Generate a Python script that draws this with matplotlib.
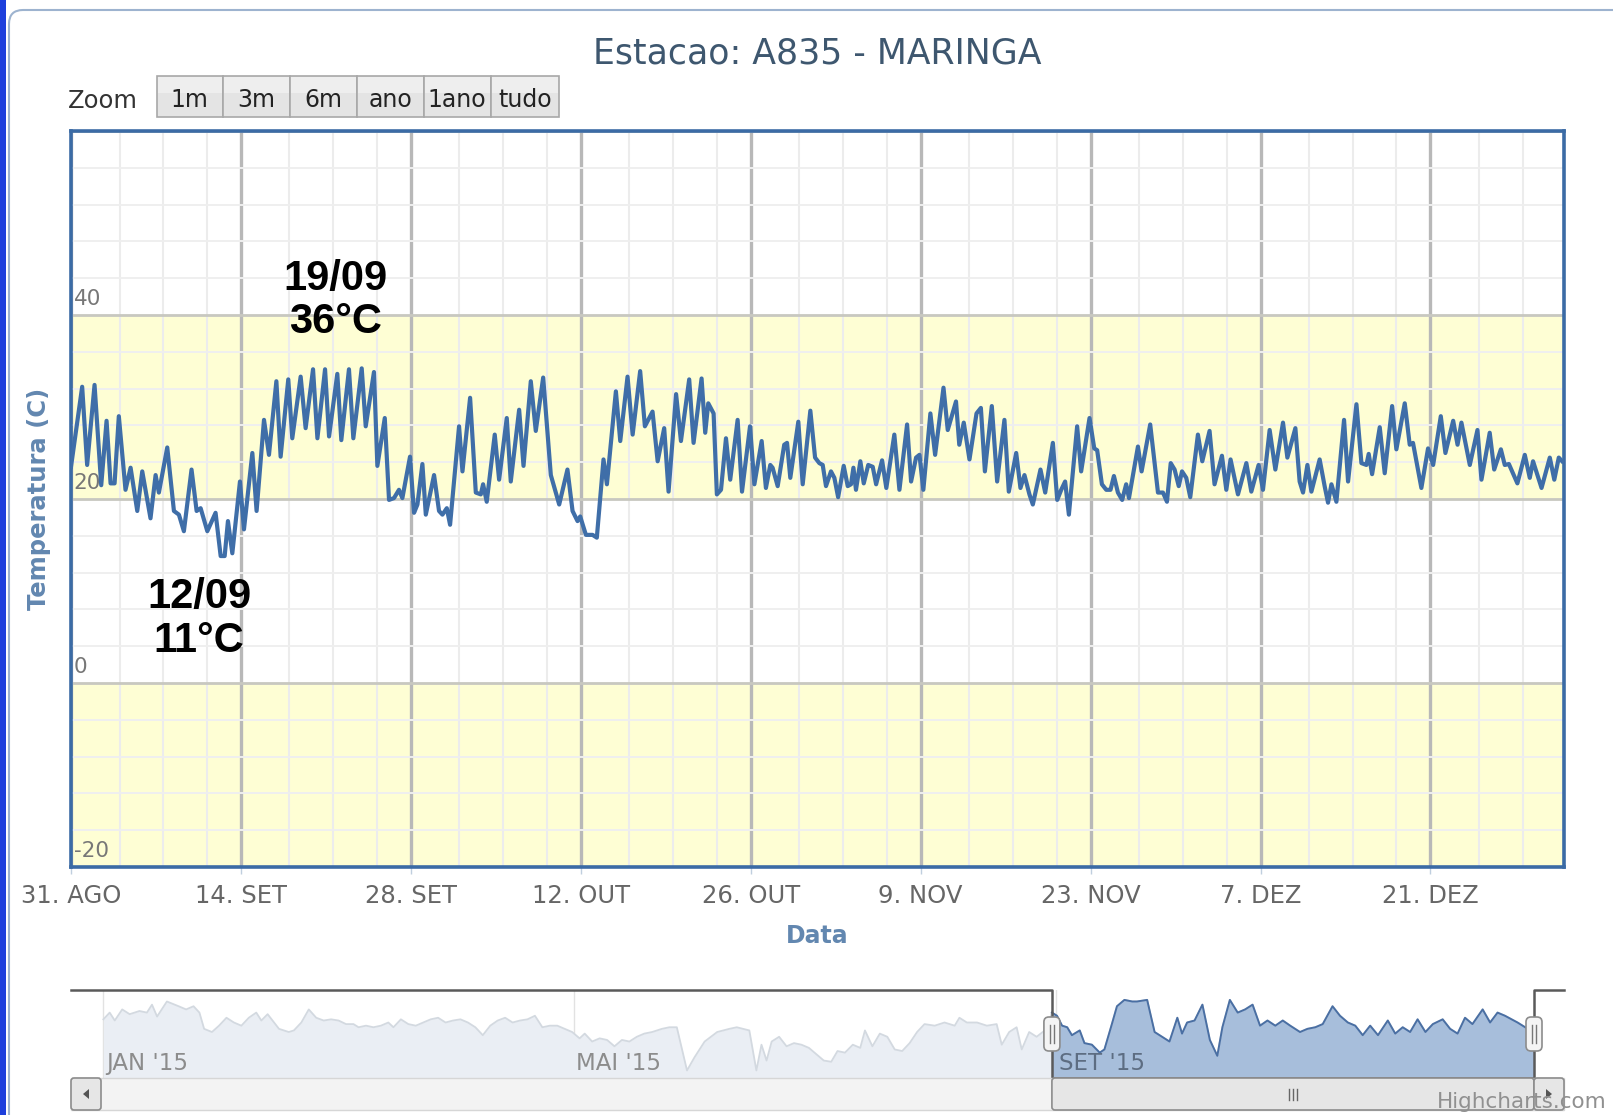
import numpy as np
import matplotlib
matplotlib.use("Agg")
import matplotlib.pyplot as plt
import matplotlib.dates as mdates
from matplotlib.patches import Rectangle, FancyBboxPatch, Polygon
from matplotlib.ticker import MultipleLocator
from datetime import datetime

# ---------------- data ----------------
title = "Estacao: A835 - MARINGA"
y_label = "Temperatura (C)"
x_label = "Data"
zoom_label = "Zoom"
zoom_buttons = ["1m", "3m", "6m", "ano", "1ano", "tudo"]
credit = "Highcharts.com"

start = datetime(2015, 8, 31)
end = datetime(2016, 1, 1)
x_tick_dates = [datetime(2015, 8, 31), datetime(2015, 9, 14), datetime(2015, 9, 28),
                datetime(2015, 10, 12), datetime(2015, 10, 26), datetime(2015, 11, 9),
                datetime(2015, 11, 23), datetime(2015, 12, 7), datetime(2015, 12, 21)]
x_tick_labels = ["31. AGO", "14. SET", "28. SET", "12. OUT", "26. OUT",
                 "9. NOV", "23. NOV", "7. DEZ", "21. DEZ"]
y_ticks = [-20, 0, 20, 40]
y_tick_labels = ["-20", "0", "20", "40"]
y_min, y_max = -20, 60
band_ranges = [(-20, 0), (20, 40)]

# temperature series: days after 31 Aug 2015, value in C
seg1_days = [0.00, 0.92, 1.33, 1.94, 2.49, 2.93, 3.26, 3.59, 3.94, 4.49,
             4.91, 5.46, 5.87, 6.55, 6.97, 7.24, 7.93, 8.48, 8.89, 9.30,
             9.93, 10.35, 10.68, 11.23, 11.91, 12.33, 12.66, 12.93, 13.29, 13.92,
             14.25, 14.94, 15.29, 15.90, 16.31, 16.92, 17.27, 17.90, 18.23, 18.92,
             19.33, 19.94, 20.30, 20.93, 21.26, 21.94, 22.27, 22.90, 23.26, 23.95,
             24.28, 24.96]
seg1_temp = [23.5, 32.2, 23.7, 32.4, 21.5, 28.5, 21.7, 21.7, 29.0, 21.0,
             23.4, 18.7, 23.0, 17.9, 22.6, 20.7, 25.6, 18.7, 18.3, 16.5,
             23.2, 18.7, 19.0, 16.5, 18.5, 13.8, 13.8, 17.6, 14.1, 21.9,
             16.7, 25.0, 18.7, 28.6, 24.8, 32.8, 24.6, 33.0, 26.6, 33.3,
             27.7, 34.1, 26.6, 34.1, 26.8, 33.6, 26.4, 34.1, 26.6, 34.2,
             27.9, 33.8]
seg2_days = [25.24, 25.85, 26.20, 26.61, 27.02, 27.30, 27.93, 28.26, 28.54, 28.95,
             29.23, 29.91, 30.32, 30.60, 30.96, 31.23, 31.97, 32.25, 32.88, 33.35,
             33.76, 33.95, 34.25, 34.91, 35.27, 35.90, 36.23, 36.92, 37.28, 37.88,
             38.29, 38.90, 39.53, 40.22, 40.90, 41.32, 41.73, 41.95, 42.42, 42.97,
             43.32, 43.87, 44.15, 44.89, 45.25, 45.85, 46.27, 46.89, 47.28, 47.91,
             48.33, 48.87, 49.23]
seg2_temp = [23.6, 28.8, 19.9, 20.1, 21.0, 20.1, 24.6, 18.5, 19.4, 23.8,
             18.3, 22.6, 18.7, 18.3, 19.0, 17.2, 27.9, 23.0, 31.0, 20.7,
             20.5, 21.6, 19.7, 27.0, 22.1, 28.8, 21.9, 29.7, 23.6, 32.8,
             27.4, 33.2, 22.6, 19.4, 23.2, 18.7, 17.6, 18.1, 16.1, 16.1,
             15.8, 24.3, 21.6, 31.7, 26.3, 33.3, 27.0, 33.9, 27.9, 29.5,
             24.1, 27.7, 20.8]
seg3_days = [49.85, 50.25, 50.93, 51.29, 51.95, 52.25, 52.50, 52.94, 53.21, 53.55,
             53.96, 54.31, 54.92, 55.28, 55.94, 56.30, 56.90, 57.25, 57.61, 57.80,
             58.22, 58.76, 58.99, 59.26, 59.92, 60.28, 60.91, 61.30, 61.65, 61.93,
             62.20, 62.61, 62.89, 63.20, 63.66, 63.99, 64.26, 64.46, 64.67, 65.03,
             65.31, 65.68, 66.05, 66.33, 66.82, 67.17, 67.83, 68.25, 68.88, 69.21,
             69.62, 69.90, 70.22, 70.80, 71.19, 71.88, 72.23, 72.91, 73.18, 73.55,
             74.02]
seg3_temp = [31.4, 26.3, 33.0, 26.1, 33.1, 27.2, 30.4, 29.3, 20.5, 21.0,
             26.6, 22.1, 28.6, 20.8, 27.9, 21.6, 26.3, 21.2, 23.7, 23.4,
             21.4, 25.9, 26.1, 22.3, 28.4, 21.6, 29.6, 24.5, 23.9, 23.7,
             21.4, 23.0, 22.3, 20.2, 23.6, 21.4, 21.6, 23.4, 21.0, 24.1,
             21.7, 23.7, 23.5, 21.6, 24.2, 21.2, 27.0, 21.0, 28.1, 21.9,
             24.5, 24.8, 21.0, 29.3, 24.8, 32.1, 27.5, 30.6, 25.9, 28.3,
             24.3]
seg4_days = [74.60, 74.96, 75.29, 75.86, 76.30, 76.90, 77.26, 77.87, 78.22, 78.55,
             78.96, 79.24, 79.87, 80.26, 80.89, 81.25, 81.58, 81.90, 82.21, 82.89,
             83.22, 83.91, 84.30, 84.54, 84.93, 85.29, 85.64, 85.92, 86.25, 86.60,
             86.93, 87.16, 87.90, 88.20, 88.91, 89.55, 89.96, 90.29, 90.60, 90.92,
             91.26, 91.53, 91.88, 92.21, 92.84, 93.20, 93.80, 94.21, 94.82, 95.18,
             95.53, 96.14, 96.83, 97.24, 97.84, 98.20, 98.75, 99.22]
seg4_temp = [29.3, 29.9, 23.0, 30.1, 21.9, 28.6, 20.8, 25.0, 21.2, 22.6,
             20.5, 19.4, 23.2, 20.7, 26.1, 19.9, 21.0, 21.9, 18.3, 27.9,
             23.0, 28.8, 25.5, 25.3, 21.6, 21.0, 21.0, 22.5, 20.7, 19.9,
             21.6, 20.1, 25.7, 23.0, 28.1, 20.7, 20.7, 19.7, 23.9, 23.2,
             21.4, 23.0, 22.3, 20.2, 27.0, 24.1, 27.4, 21.6, 24.7, 21.0,
             24.3, 20.5, 23.9, 20.8, 23.7, 21.0, 27.5, 23.2]
seg5_days = [99.85, 100.21, 100.87, 101.22, 101.50, 101.86, 102.19, 102.87, 103.28, 103.56,
             103.84, 104.25, 104.88, 105.21, 105.90, 106.31, 106.72, 106.91, 107.19, 107.82,
             108.23, 108.84, 109.19, 109.88, 110.29, 110.56, 111.25, 111.80, 112.22, 112.85,
             113.23, 113.87, 114.23, 114.55, 115.24, 115.87, 116.20, 116.88, 117.25, 117.80,
             118.12, 118.46, 119.16, 119.77, 120.18, 120.45, 121.15, 121.83, 122.20, 122.57,
             122.85]
seg5_temp = [28.3, 24.5, 27.7, 21.9, 20.7, 23.7, 20.8, 24.3, 21.4, 19.6,
             21.6, 19.7, 28.6, 21.9, 30.3, 23.9, 23.7, 24.9, 22.7, 27.8,
             22.8, 30.1, 25.4, 30.4, 25.9, 26.1, 21.2, 25.5, 23.7, 29.0,
             25.0, 28.5, 25.9, 28.3, 23.7, 27.5, 22.1, 27.2, 23.2, 25.4,
             23.7, 23.8, 21.7, 24.8, 22.3, 24.1, 21.2, 24.5, 22.1, 24.5,
             24.1]

# annotations: (text, days after 31 Aug for centre, baseline value)
annotations = [("19/09", 21.8, 42.7), ("36°C", 21.8, 38.0),
               ("12/09", 10.55, 8.1), ("11°C", 10.55, 3.4)]

# navigator series (days after 1 Jan 2015, smoothed value)
nav_start = datetime(2015, 1, 1)
nav_days_a = [0, 1.6, 2.9, 4.8, 6.7, 9.2, 11.1, 12.4, 13.7, 16.2, 19.2, 21.1, 23.0, 24.5,
              25.7, 27.7, 29.5, 31.4, 33.3, 35.2, 37.1, 39.0, 40.3, 41.9, 44.8, 47.3,
              48.6, 50.5, 52.4, 54.3, 56.2, 58.1, 60.0, 61.9, 63.8, 65.1, 67.0, 68.9,
              70.8, 72.7, 74.0, 75.9, 77.8, 79.7, 81.6, 83.5, 85.4, 87.3, 89.2, 91.1,
              93.0, 94.9, 96.8, 98.7, 100.6, 102.5, 104.4, 106.3, 108.2, 110.1, 112.0,
              113.9, 115.8, 117.7, 119.6]
nav_vals_a = [25.2, 26.9, 24.9, 27.7, 26.5, 27.3, 26.9, 28.9, 25.9, 29.7, 28.5, 27.7, 28.5, 26.9,
              22.8, 22.0, 23.6, 25.6, 24.4, 23.6, 25.6, 26.9, 24.9, 26.5, 22.8, 22.0,
              22.4, 24.4, 27.7, 25.6, 24.9, 25.2, 24.9, 24.0, 24.0, 23.2, 23.6, 23.2,
              23.6, 24.4, 23.2, 25.2, 24.0, 23.6, 24.4, 25.2, 25.6, 24.4, 24.9, 25.2,
              24.4, 23.2, 21.2, 23.6, 24.9, 25.6, 24.4, 24.9, 25.2, 26.1, 23.2,
              23.6, 23.6, 22.8, 22.0]
nav_days_b = [121.5, 122.8, 124.7, 126.6, 128.5, 130.4, 132.3, 134.2, 136.1, 138.0,
              140.0, 142.5, 144.4, 146.3, 148.9, 150.8, 153.4, 156.6, 159.7, 161.6,
              164.8, 166.6, 167.9, 169.2, 170.5, 172.4, 174.3, 176.2, 178.1, 180.0,
              181.9, 183.8, 185.7, 187.3, 189.2, 191.2, 193.1, 194.3, 196.2, 198.1,
              200.0, 201.9, 203.8, 205.7, 207.6, 209.5, 212.1, 214.6, 217.2, 218.4,
              220.3, 222.9, 225.4, 227.9, 229.2, 231.1, 233.0, 234.3, 236.2, 238.1,
              240.7]
nav_vals_b = [20.4, 21.6, 19.6, 20.4, 20.0, 18.4, 20.0, 19.6, 20.8, 21.6,
              22.0, 22.8, 23.2, 23.2, 12.3, 15.6, 19.6, 22.0, 22.8, 23.2,
              22.4, 12.3, 18.8, 14.8, 19.6, 20.8, 18.4, 19.2, 18.8, 18.0,
              16.4, 14.8, 14.5, 17.2, 16.8, 18.8, 18.0, 22.4, 18.4, 21.6,
              20.8, 17.6, 17.2, 19.2, 22.0, 24.0, 23.6, 24.4, 23.6, 25.6,
              24.4, 24.4, 23.6, 24.0, 18.8, 22.0, 23.2, 17.6, 22.0, 20.8,
              22.8]
nav_days_c = [242.0, 243.3, 244.6, 245.9, 247.1, 249.1, 250.3, 252.2, 254.2, 255.4,
              257.3, 258.6, 260.5, 262.5, 263.7, 266.3, 268.2, 270.1, 272.0, 274.0,
              275.2, 276.5, 278.4, 280.4, 282.3, 284.2, 285.5, 287.4, 289.4, 291.3,
              293.2, 295.1, 297.0, 299.0, 300.9, 302.8, 305.3, 307.2, 309.2, 311.1,
              313.6, 315.5, 317.5, 319.4, 321.3, 323.2, 325.2, 327.7, 329.6, 331.5,
              333.4, 335.3, 337.3, 339.2, 341.7, 343.6, 345.5, 347.4, 349.3, 351.9,
              353.8, 355.7, 357.6, 360.8, 363.4, 365.0]
nav_vals_c = [26.9, 26.1, 23.6, 23.2, 21.2, 22.4, 19.2, 18.8, 16.8, 17.6,
              24.0, 28.5, 30.1, 29.7, 29.7, 30.1, 22.0, 20.8, 19.6, 25.6,
              21.6, 24.4, 24.9, 28.9, 20.0, 16.0, 23.2, 30.1, 26.9, 27.7,
              28.9, 23.6, 24.9, 23.6, 24.9, 23.6, 22.0, 22.8, 23.2, 24.0,
              28.5, 26.1, 24.4, 23.6, 21.2, 23.6, 21.2, 24.9, 21.6, 23.2,
              22.0, 25.2, 22.0, 24.0, 25.2, 22.8, 21.6, 25.6, 24.0, 27.7,
              24.4, 26.9, 26.1, 24.4, 22.8, 22.6]
nav_tick_dates = [datetime(2015, 1, 1), datetime(2015, 5, 1), datetime(2015, 9, 1)]
nav_tick_labels = ["JAN '15", "MAI '15", "SET '15"]
nav_y_range = (10.4, 32.6)

# ---------------- figure ----------------
W, H, DPI = 1613, 1115, 100
fig = plt.figure(figsize=(W / DPI, H / DPI), dpi=DPI, facecolor="white")


def frac(x0, y0, x1, y1):
    return [x0 / W, 1 - y1 / H, (x1 - x0) / W, (y1 - y0) / H]


# background / UI layer
bg = fig.add_axes([0, 0, 1, 1], zorder=0)
bg.set_xlim(0, W)
bg.set_ylim(H, 0)
bg.axis("off")
bg.add_patch(FancyBboxPatch((9, 10), 1800, 1300, boxstyle="round,pad=0,rounding_size=14",
                            fc="white", ec="#9db3cf", lw=1.5))
bg.add_patch(Rectangle((0, 0), 6, H, fc="#1d3fdc", ec="none"))
bg.text(817, 63, title, ha="center", va="baseline", fontsize=25, color="#3e576f")
bg.text(68, 108, zoom_label, ha="left", va="baseline", fontsize=17.5, color="#333333")
edges = [156.5, 223, 290, 357, 423.5, 491, 558.5]
for i, lab in enumerate(zoom_buttons):
    x0, x1 = edges[i], edges[i + 1]
    bg.add_patch(Rectangle((x0, 76), x1 - x0, 41, fc="#e4e4e4", ec="#a8a8a8", lw=1.2))
    bg.add_patch(Rectangle((x0 + 1, 77), x1 - x0 - 2, 16, fc="#eeeeee", ec="none"))
    bg.text((x0 + x1) / 2, 107, lab, ha="center", va="baseline", fontsize=17, color="#222222")

# main plot
ax = fig.add_axes(frac(71, 131, 1564, 867), zorder=1)
x0num = mdates.date2num(start)
ax.set_xlim(x0num, mdates.date2num(end))
ax.set_ylim(y_min, y_max)
for lo, hi in band_ranges:
    ax.axhspan(lo, hi, fc="#fefed4", lw=0, zorder=0.1)

ax.set_yticks(y_ticks + [y_max])
ax.yaxis.set_minor_locator(MultipleLocator(4))
major_x = mdates.date2num(x_tick_dates)
ax.set_xticks(major_x)
ax.set_xticklabels(x_tick_labels)
minor_offsets = [4.0, 7.6, 11.2]
minor_x = [m + o for m in major_x for o in minor_offsets if m + o < mdates.date2num(end)]
ax.set_xticks(minor_x, minor=True)
ax.set_axisbelow(True)
ax.grid(axis="y", which="minor", color="#efefef", lw=1.4)
ax.grid(axis="x", which="minor", color="#ececec", lw=1.5)
ax.grid(axis="y", which="major", color="#c8c8c0", lw=2.0)
ax.grid(axis="x", which="major", color="#b8b8b8", lw=2.4)
ax.tick_params(axis="y", which="both", left=False, labelleft=False)
ax.tick_params(axis="x", which="minor", length=0)
ax.tick_params(axis="x", which="major", length=5, color="#c0cfdf", width=1,
               labelsize=17.5, labelcolor="#666666", pad=7)
for sp in ax.spines.values():
    sp.set_color("#3b6ba5")
    sp.set_linewidth(2.6)

days = np.concatenate([seg1_days, seg2_days, seg3_days, seg4_days, seg5_days])
temps = np.concatenate([seg1_temp, seg2_temp, seg3_temp, seg4_temp, seg5_temp])
ax.plot(x0num + days, temps, color="#3f6ea8", lw=3.0, zorder=3, solid_joinstyle="round")

for v, lab in zip(y_ticks, y_tick_labels):
    ax.annotate(lab, xy=(0, v), xycoords=("axes fraction", "data"), xytext=(2, 4),
                textcoords="offset points", ha="left", va="bottom",
                fontsize=15.5, color="#777777", zorder=2)

ax.set_ylabel(y_label, fontsize=17.5, fontweight="bold", color="#6287b0")
ax.yaxis.set_label_coords(-0.0214, 0.5)
ax.yaxis.label.set_va("center")
ax.set_xlabel(x_label, fontsize=17, fontweight="bold", color="#6287b0")
ax.xaxis.set_label_coords(0.5, -0.0938)
ax.xaxis.label.set_va("center")

for txt, d, v in annotations:
    ax.text(x0num + d, v, txt, ha="center", va="baseline", fontsize=30,
            fontweight="bold", family=["Liberation Sans", "DejaVu Sans"],
            color="black", zorder=5)

# navigator
nav = fig.add_axes(frac(71, 990, 1564, 1078), zorder=1)
n0 = mdates.date2num(nav_start)
px_day = (1534 - 103.4) / 365.0
nav.set_xlim(n0 - (103.4 - 71) / px_day, n0 + 365 + (1564 - 1534) / px_day)
nav.set_ylim(*nav_y_range)
nav.axis("off")
nav.patch.set_visible(False)
nd = np.concatenate([nav_days_a, nav_days_b, nav_days_c])
nv = np.concatenate([nav_vals_a, nav_vals_b, nav_vals_c])
for t in mdates.date2num(nav_tick_dates):
    nav.axvline(t, color="#e2e2e2", lw=1, zorder=0.5)
nav.fill_between(n0 + nd, nv, nav_y_range[0], color="#eaeef4", lw=0, zorder=1)
nav.plot(n0 + nd, nv, color="#d3d9e0", lw=1.3, zorder=1.5)
sel_days = (start - nav_start).days
sel = nd >= sel_days
nav.fill_between(n0 + nd[sel], nv[sel], nav_y_range[0], color="#a7bedb", lw=0, zorder=2)
nav.plot(n0 + nd[sel], nv[sel], color="#4a6fa3", lw=1.4, zorder=2.5)
for t, lab in zip(mdates.date2num(nav_tick_dates), nav_tick_labels):
    inside = t >= x0num - 1
    nav.text(t + 0.7, 0.09, lab, transform=nav.get_xaxis_transform(), ha="left",
             va="baseline", fontsize=16.5, color="#5d6d82" if inside else "#8c8c8c", zorder=3)
s0, s1 = x0num, mdates.date2num(end)
xl = nav.get_xlim()
nav.plot([xl[0], s0, s0, s1, s1, xl[1]], [1, 1, 0, 0, 1, 1], transform=nav.get_xaxis_transform(),
         color="#5a5a5a", lw=1.8, clip_on=False, zorder=4)

# overlay: handles, scrollbar, credit
fg = fig.add_axes([0, 0, 1, 1], zorder=2)
fg.set_xlim(0, W)
fg.set_ylim(H, 0)
fg.axis("off")
fg.patch.set_visible(False)
p0 = nav.transData.transform((s0, 0))[0]
p1 = nav.transData.transform((s1, 0))[0]

fg.add_patch(Rectangle((71, 1078), 1493, 32, fc="#f3f3f3", ec="#d6d6d6", lw=1))
fg.add_patch(FancyBboxPatch((p0, 1078), p1 - p0, 32, boxstyle="round,pad=0,rounding_size=3",
                            fc="#e6e6e6", ec="#8c8c8c", lw=1.2))
cx = (p0 + p1) / 2
for dx in (-4, 0, 4):
    fg.plot([cx + dx, cx + dx], [1089, 1100], color="#666666", lw=1)
for bx in (71, 1534):
    fg.add_patch(FancyBboxPatch((bx, 1078), 30, 32, boxstyle="round,pad=0,rounding_size=3",
                                fc="#e6e6e6", ec="#8c8c8c", lw=1.2))
fg.add_patch(Polygon([[89, 1089], [89, 1099], [83, 1094]], closed=True, fc="#555555", ec="none"))
fg.add_patch(Polygon([[1546, 1089], [1546, 1099], [1552, 1094]], closed=True, fc="#555555", ec="none"))
for p in (p0, p1):
    fg.add_patch(FancyBboxPatch((p - 8, 1017), 16, 34, boxstyle="round,pad=0,rounding_size=5",
                                fc="#f4f4f4", ec="#8c8c8c", lw=1.2))
    for dx in (-2, 2):
        fg.plot([p + dx, p + dx], [1025, 1043], color="#777777", lw=1)
fg.text(1607, 1108, credit, ha="right", va="baseline", fontsize=15.5, color="#909090")

fig.savefig("out.png", dpi=DPI, facecolor="white")
